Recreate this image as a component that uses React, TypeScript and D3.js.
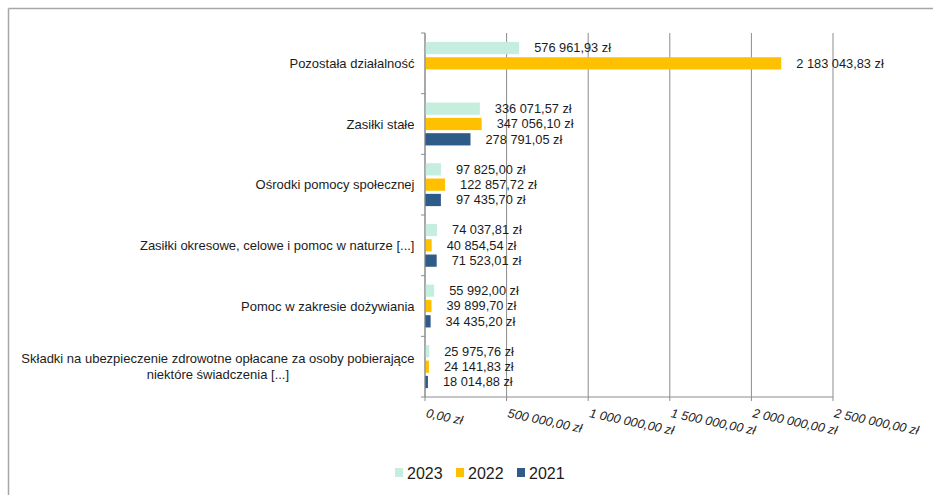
import React from "react";
import * as d3 from "d3";

const categories = [
  "Pozostała działalność",
  "Zasiłki stałe",
  "Ośrodki pomocy społecznej",
  "Zasiłki okresowe, celowe i pomoc w naturze [...]",
  "Pomoc w zakresie dożywiania",
  "Składki na ubezpieczenie zdrowotne opłacane za osoby pobierające\nniektóre świadczenia [...]",
];
const seriesNames = ["2023", "2022", "2021"];
const values2023 = [576961.93, 336071.57, 97825.0, 74037.81, 55992.0, 25975.76];
const values2022 = [2183043.83, 347056.1, 122857.72, 40854.54, 39899.7, 24141.83];
const values2021: (number | null)[] = [null, 278791.05, 97435.7, 71523.01, 34435.2, 18014.88];
const xTicks = [0, 500000, 1000000, 1500000, 2000000, 2500000];
const seriesColors = ["#C6EEDF", "#FFC000", "#2F5B89"];

const W = 933;
const H = 495;
const FONT = "'Liberation Sans', Arial, sans-serif";
const TEXT = "#1c1c1c";
const AXIS = "#8c8c8c";

const locale = d3.formatLocale({
  decimal: ",",
  thousands: " ",
  grouping: [3],
  currency: ["", " zł"],
});
const fmt = locale.format(",.2f");
const money = (v: number) => fmt(v) + " zł";

let _ctx: CanvasRenderingContext2D | null = null;
function measure(text: string, font: string) {
  if (!_ctx) _ctx = document.createElement("canvas").getContext("2d");
  if (!_ctx) return text.length * 6.5;
  _ctx.font = font;
  return _ctx.measureText(text).width;
}

export default function App() {
  const seriesValues = [values2023, values2022, values2021];
  const x = d3.scaleLinear().domain([0, 2500000]).range([425, 833]);
  const y0 = d3.scaleBand<string>().domain(categories).range([33, 397]).paddingInner(0).paddingOuter(0);
  const y1 = d3
    .scaleBand<string>()
    .domain(seriesNames)
    .range([0, y0.bandwidth()])
    .paddingInner(0.2)
    .paddingOuter(0.58);

  const labelRight = 414.5;
  const catSize = 13;
  const labelFont = `${catSize}px 'Liberation Sans'`;
  const valSize = 12.8;

  const boundaries = categories.map((c) => y0(c) as number).concat([397]);

  const legendX0 = 395;
  const legendStep = 61;

  return (
    <svg
      width={W}
      height={H}
      style={{ position: "absolute", left: 0, top: 0, background: "#fff" }}
      fontFamily={FONT}
    >
      {/* frame */}
      <line x1={8.5} y1={8.5} x2={W} y2={8.5} stroke="#a6a6a6" strokeWidth={1.5} />
      <line x1={8.5} y1={8.5} x2={8.5} y2={H} stroke="#a6a6a6" strokeWidth={1.5} />

      {/* gridlines */}
      {xTicks.map((t) => (
        <line key={"g" + t} x1={x(t)} x2={x(t)} y1={33} y2={397} stroke={AXIS} strokeWidth={1} />
      ))}
      {/* x axis line and ticks */}
      <line x1={x(0)} x2={x(2500000)} y1={397} y2={397} stroke={AXIS} />
      {xTicks.map((t) => (
        <line key={"t" + t} x1={x(t)} x2={x(t)} y1={397} y2={401} stroke={AXIS} />
      ))}
      {/* y axis ticks */}
      {boundaries.map((b, i) => (
        <line key={"yb" + i} x1={421} x2={425} y1={b} y2={b} stroke={AXIS} />
      ))}

      {/* x tick labels */}
      {xTicks.map((t) => (
        <text
          key={"xl" + t}
          transform={`translate(${x(t) + 0.5},${417}) rotate(12)`}
          fontSize={12.6}
          fontStyle="italic"
          fill={TEXT}
        >
          {money(t)}
        </text>
      ))}

      {/* bars */}
      {categories.map((c, ci) =>
        seriesNames.map((s, si) => {
          const v = seriesValues[si][ci];
          if (v == null) return null;
          const yy = (y0(c) as number) + (y1(s) as number);
          const h = y1.bandwidth();
          return (
            <g key={c + s}>
              <rect x={x(0)} y={yy} width={x(v) - x(0)} height={h} fill={seriesColors[si]} />
              <text
                x={x(v) + 15}
                y={yy + h / 2}
                dy="0.35em"
                fontSize={valSize}
                fill={TEXT}
              >
                {money(v)}
              </text>
            </g>
          );
        })
      )}

      {/* category labels */}
      {categories.map((c) => {
        const lines = c.split("\n");
        const cy = (y0(c) as number) + y0.bandwidth() / 2;
        const maxW = Math.max(...lines.map((l) => measure(l, labelFont)));
        const lh = 16;
        const single = lines.length === 1;
        const ax = single ? labelRight : labelRight - maxW / 2;
        return (
          <text
            key={"cl" + c}
            x={ax}
            y={cy - ((lines.length - 1) * lh) / 2}
            textAnchor={single ? "end" : "middle"}
            fontSize={catSize}
            fill={TEXT}
          >
            {lines.map((l, i) => (
              <tspan key={i} x={ax} dy={i === 0 ? "0.35em" : lh}>
                {l}
              </tspan>
            ))}
          </text>
        );
      })}

      {/* axis line */}
      <line x1={x(0)} x2={x(0)} y1={33} y2={397} stroke={AXIS} />

      {/* legend */}
      {seriesNames.map((s, i) => (
        <g key={"lg" + s} transform={`translate(${legendX0 + i * legendStep},0)`}>
          <rect x={0} y={468} width={8} height={9} fill={seriesColors[i]} />
          <text x={12} y={478.5} fontSize={16} fill={TEXT}>
            {s}
          </text>
        </g>
      ))}
    </svg>
  );
}
